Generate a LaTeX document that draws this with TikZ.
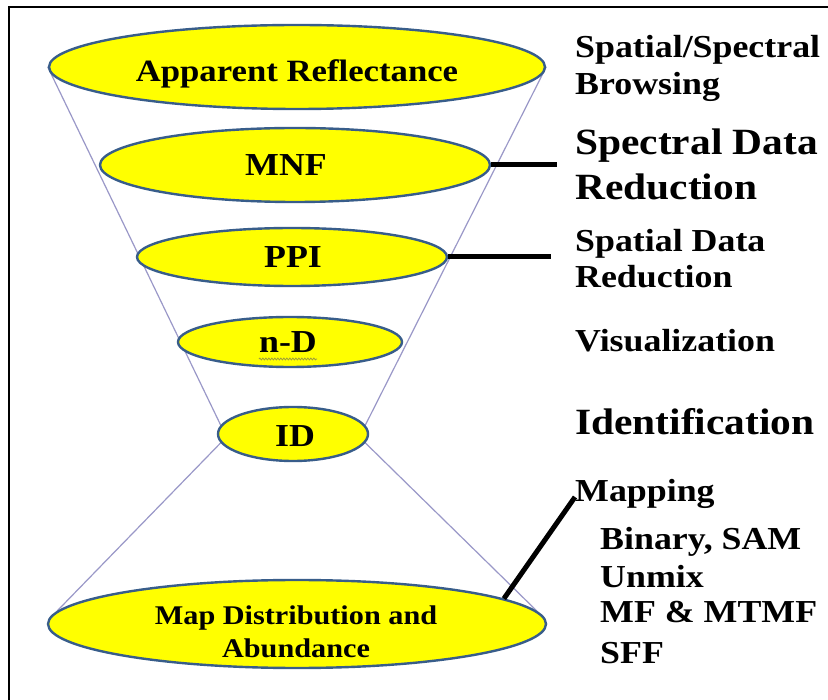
\documentclass[tikz,border=0pt]{standalone}
\usepackage{fontspec}
\setmainfont{Liberation Serif}[FakeStretch=1.12]
\usetikzlibrary{shapes.geometric,decorations.pathmorphing,calc}
\pgfdeclarelayer{bg}
\pgfsetlayers{bg,main}
\definecolor{fillY}{HTML}{FFFF00}
\definecolor{rimB}{HTML}{385D8A}
\definecolor{funnelC}{HTML}{9A98C8}
\definecolor{squig}{HTML}{9C9C3C}
\begin{document}
\begin{tikzpicture}[x=1pt,y=-1pt,
  disc/.style={ellipse, draw=rimB, fill=fillY, line width=2.4pt, inner sep=0pt},
  intext/.style={anchor=base, font=\bfseries\fontsize{32}{38}\selectfont, inner sep=0pt},
  side/.style={anchor=base west, font=\bfseries\fontsize{32}{38}\selectfont, inner sep=0pt},
  sidebig/.style={anchor=base west, font=\bfseries\fontsize{37}{45}\selectfont, inner sep=0pt},
  funnel/.style={draw=funnelC, line width=1.2pt},
  tie/.style={draw=black, line width=5pt}]
\useasboundingbox (0,0) rectangle (828,700);
% frame
\draw[line width=2pt] (828,7) -- (9,7) -- (9,700);
% ellipses
\node[disc, minimum width=496pt, minimum height=84pt] (ar) at (297,67) {};
\node[disc, minimum width=390pt, minimum height=74pt] (mnf) at (295,165) {};
\node[disc, minimum width=310pt, minimum height=58pt] (ppi) at (292,257) {};
\node[disc, minimum width=224pt, minimum height=50pt] (nd) at (290,342) {};
\node[disc, minimum width=150pt, minimum height=54pt] (id) at (293,434) {};
\node[disc, minimum width=498pt, minimum height=88pt] (map) at (297,624) {};
% ellipse texts
\node[intext, font=\bfseries\fontsize{31}{37}\selectfont] (tar) at (297,82) {Apparent Reflectance};
\node[intext] (tmnf) at (286,176) {MNF};
\node[intext] (tppi) at (293,268) {PPI};
\node[intext] (tnd) at (288,353) {n-D};
\node[intext] (tid) at (295,447) {ID};
\node[intext, font=\bfseries\fontsize{27}{33}\selectfont] (tmapa) at (296,624) {Map Distribution and};
\node[intext, font=\bfseries\fontsize{27}{33}\selectfont] (tmapb) at (296,657) {Abundance};
\draw[squig, line width=0.8pt, decorate, decoration={snake, amplitude=0.9pt, segment length=3pt}]
  ($(tnd.base west)+(0,6)$) -- ($(tnd.base east)+(0,6)$);
% right labels
\node[side] (l1a) at (575,58) {Spatial/Spectral};
\node[side] (l1b) at (575,95) {Browsing};
\node[sidebig] (l2a) at (575,155) {Spectral Data};
\node[sidebig] (l2b) at (575,200) {Reduction};
\node[side] (l3a) at (575,252) {Spatial Data};
\node[side] (l3b) at (575,288) {Reduction};
\node[side] (l4) at (575,352) {Visualization};
\node[sidebig] (l5) at (575,435) {Identification};
\node[side] (l6) at (575,502) {Mapping};
\node[side] (l7a) at (600,550) {Binary, SAM};
\node[side] (l7b) at (600,587) {Unmix};
\node[side] (l7c) at (600,623) {MF \& MTMF};
\node[side] (l7d) at (600,663) {SFF};
% connector ends
\coordinate (c1) at (557,165);
\coordinate (c2) at (551,257);
\coordinate (c3) at (575,497);
\draw[tie] (mnf.east) -- (c1);
\draw[tie] (ppi.east) -- (c2);
\draw[tie] (map.7) -- (c3);
% funnel lines
\begin{pgfonlayer}{bg}
\fill[white] (0,0) rectangle (828,700);
\draw[funnel] (ar.west) -- (id.173);
\draw[funnel] (ar.east) -- (id.7);
\draw[funnel] (id.187) -- (map.177);
\draw[funnel] (id.353) -- (map.3);
\end{pgfonlayer}
\end{tikzpicture}
\end{document}
